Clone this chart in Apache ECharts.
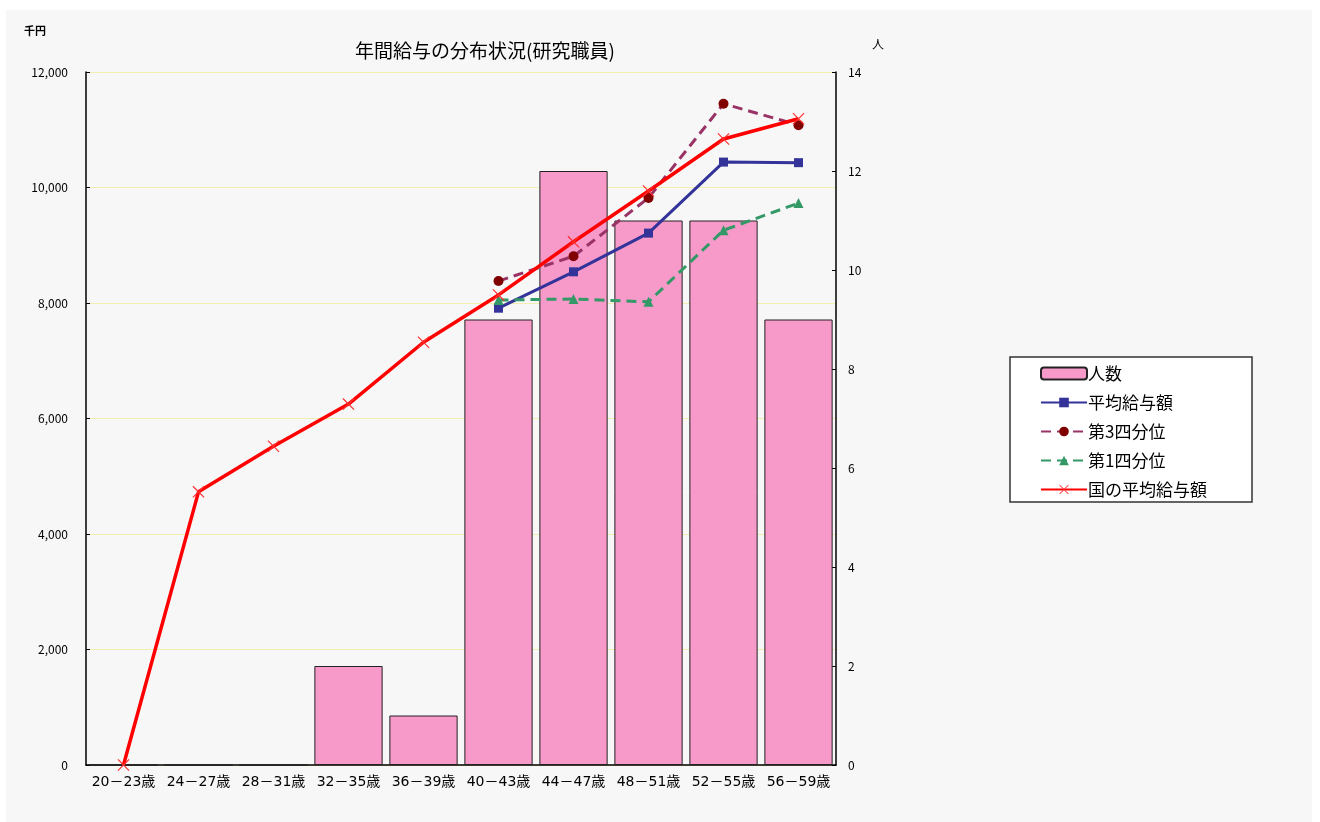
<!DOCTYPE html>
<html><head><meta charset="utf-8">
<script src="https://cdn.jsdelivr.net/npm/echarts@6/dist/echarts.min.js"></script>
<style>html,body{margin:0;padding:0;background:#fff;}#c{position:absolute;left:6px;top:10px;width:1306px;height:812px;}</style>
</head><body><div id="c"></div>
<script>
const categories = ['20－23歳','24－27歳','28－31歳','32－35歳','36－39歳','40－43歳','44－47歳','48－51歳','52－55歳','56－59歳'];
const headcount = [0, 0, 0, 2, 1, 9, 12, 11, 11, 9];
const avgSalary = [null, null, null, null, null, 7910, 8540, 9210, 10440, 10430];
const q3 = [null, null, null, null, null, 8380, 8810, 9820, 11450, 11080];
const q1 = [null, null, null, null, null, 8050, 8070, 8020, 9260, 9730];
const national = [0, 4730, 5520, 6250, 7320, 8140, 9060, 9940, 10840, 11190];
const leftTicks = [0, 12000, 2000];
const rightTicks = [0, 14, 2];

const X_SYM = 'path://M0,0.7L0.7,0L10,9.3L9.3,10Z M9.3,0L10,0.7L0.7,10L0,9.3Z';
const font = '"Noto Sans CJK JP", sans-serif';
const chart = echarts.init(document.getElementById('c'));
chart.setOption({
  backgroundColor: '#f7f7f7',
  textStyle: {fontFamily: font},
  title: {text: '年間給与の分布状況(研究職員)', left: 474, top: 26, textAlign: 'center',
    textStyle: {fontSize: 19, fontWeight: 'normal', color: '#000', fontFamily: font}},
  grid: {left: 80, right: 476, top: 62, bottom: 57, containLabel: false},
  legend: {
    orient: 'vertical', left: 1004, top: 347,
    padding: [6, 45, 2, 30], itemGap: 8, itemWidth: 46, itemHeight: 12,
    backgroundColor: '#fff', borderColor: '#333', borderWidth: 1.5,
    textStyle: {fontSize: 17, lineHeight: 21, color: '#000', fontFamily: font, padding: [0,0,0,-4]},
    data: ['人数','平均給与額','第3四分位','第1四分位','国の平均給与額']
  },
  xAxis: {
    type: 'category', data: categories,
    axisLine: {lineStyle: {color: '#000', width: 1.5}},
    axisTick: {inside: true, length: 5, lineStyle: {color: '#000'}},
    axisLabel: {color: '#000', fontSize: 14, interval: 0, margin: 10,
      fontFamily: '"DejaVu Sans", "Noto Sans CJK JP", sans-serif'}
  },
  yAxis: [{
    type: 'value', min: leftTicks[0], max: leftTicks[1], interval: leftTicks[2],
    name: '千円', nameLocation: 'end', nameGap: 36,
    nameTextStyle: {fontSize: 11, color: '#000', align: 'right', padding: [0, 40, 0, 0], fontWeight: 'bold'},
    axisLine: {show: true, lineStyle: {color: '#000', width: 1.5}},
    axisTick: {show: true, inside: true, length: 4, lineStyle: {color: '#000'}},
    axisLabel: {color: '#000', fontSize: 12, margin: 18,
      formatter: v => v.toLocaleString('en-US')},
    splitLine: {show: true, lineStyle: {color: '#f2eeb0', width: 1}}
  }, {
    type: 'value', min: rightTicks[0], max: rightTicks[1], interval: rightTicks[2],
    name: '人', nameLocation: 'end', nameGap: 22,
    nameTextStyle: {fontSize: 12, color: '#000', align: 'left', padding: [0, 0, 0, 36]},
    axisLine: {show: true, lineStyle: {color: '#000', width: 1.5}},
    axisTick: {show: true, inside: true, length: 4, lineStyle: {color: '#000'}},
    axisLabel: {color: '#000', fontSize: 12, margin: 12},
    splitLine: {show: false}
  }],
  series: [
    {name: '人数', type: 'bar', yAxisIndex: 1, data: headcount, barCategoryGap: '9%',
      itemStyle: {color: '#f799c9', borderColor: '#222', borderWidth: 1}, z: 1},
    {name: '平均給与額', type: 'line', data: avgSalary, symbol: 'rect', symbolSize: 9,
      lineStyle: {color: '#333399', width: 3}, itemStyle: {color: '#333399'}, z: 3},
    {name: '第3四分位', type: 'line', data: q3, symbol: 'circle', symbolSize: 10,
      lineStyle: {color: '#993366', width: 3, type: [10, 6]}, itemStyle: {color: '#800000'}, z: 3},
    {name: '第1四分位', type: 'line', data: q1, symbol: 'triangle', symbolSize: 10,
      lineStyle: {color: '#339966', width: 3, type: [10, 6]}, itemStyle: {color: '#339966'}, z: 3},
    {name: '国の平均給与額', type: 'line', data: national, symbol: X_SYM, symbolSize: 12,
      lineStyle: {color: '#ff0000', width: 3.5}, itemStyle: {color: '#ff3030'}, z: 4}
  ]
});
</script></body></html>
